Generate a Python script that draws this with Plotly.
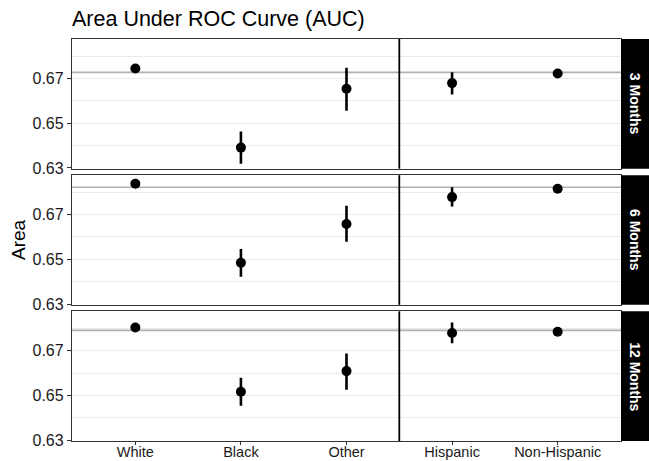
import plotly.graph_objects as go
from plotly.subplots import make_subplots

# ---- data ----
months = ["3 Months", "6 Months", "12 Months"]
groups = ["White", "Black", "Other", "Hispanic", "Non-Hispanic"]

auc_3 = [0.6744, 0.6391, 0.6654, 0.6679, 0.6722]
lo_3 = [0.6735, 0.6319, 0.6556, 0.6628, 0.6714]
hi_3 = [0.6753, 0.6463, 0.6748, 0.6727, 0.6730]

auc_6 = [0.6838, 0.6485, 0.6658, 0.6778, 0.6815]
lo_6 = [0.6827, 0.6422, 0.6579, 0.6736, 0.6806]
hi_6 = [0.6849, 0.6546, 0.6739, 0.6822, 0.6824]

auc_12 = [0.6804, 0.6517, 0.6609, 0.6779, 0.6785]
lo_12 = [0.6793, 0.6454, 0.6526, 0.6734, 0.6776]
hi_12 = [0.6815, 0.6579, 0.6688, 0.6826, 0.6794]

overall_auc = [0.6727, 0.6822, 0.6791]
y_ticks = [0.63, 0.65, 0.67]
y_tick_labels = ["0.63", "0.65", "0.67"]

rows = [(auc_3, lo_3, hi_3), (auc_6, lo_6, hi_6), (auc_12, lo_12, hi_12)]

W, H = 649, 461
ML, MR, MT, MB = 72, 28, 39, 20
plot_w = W - ML - MR
plot_h = H - MT - MB

fig = make_subplots(rows=3, cols=1, shared_xaxes=True, vertical_spacing=0.02)

gap = 6.5 / plot_h
ph = (1 - 2 * gap) / 3
domains = [[1 - ph, 1], [ph + gap, 2 * ph + gap], [0, ph]]

border = "#333333"
grid = "#ebebeb"

for i, (auc, lo, hi) in enumerate(rows):
    r = i + 1
    fig.add_trace(go.Scatter(
        x=groups, y=auc, mode="markers",
        marker=dict(color="black", size=10),
        error_y=dict(type="data", symmetric=False,
                     array=[h - a for h, a in zip(hi, auc)],
                     arrayminus=[a - l for a, l in zip(auc, lo)],
                     color="black", thickness=2.6, width=0),
        showlegend=False, hoverinfo="skip", cliponaxis=False,
    ), row=r, col=1)
    yname = "yaxis" if r == 1 else f"yaxis{r}"
    xname = "xaxis" if r == 1 else f"xaxis{r}"
    yref = "y" if r == 1 else f"y{r}"
    xref = "x" if r == 1 else f"x{r}"
    fig.layout[yname].update(
        domain=domains[i], range=[0.6297, 0.6876], automargin=False,
        tickmode="array", tickvals=y_ticks, ticktext=y_tick_labels,
        showgrid=True, gridcolor=grid, gridwidth=1.3,
        minor=dict(tickmode="array", tickvals=[0.64, 0.66, 0.68],
                   showgrid=True, gridcolor=grid, gridwidth=1.1, ticks=""),
        zeroline=False, showline=True, linecolor=border, linewidth=1.3,
        mirror=True, ticks="outside", ticklen=4, tickcolor=border, tickwidth=1.1,
        tickfont=dict(family="Liberation Sans, Arial", size=16, color="#1a1a1a"),
    )
    fig.layout[xname].update(
        type="category", categoryorder="array", categoryarray=groups,
        range=[-0.6, 4.6], showgrid=False, zeroline=False, automargin=False,
        showline=True, linecolor=border, linewidth=1.3, mirror=True,
        ticks="outside" if r == 3 else "", ticklen=3, tickcolor=border,
        showticklabels=(r == 3), ticklabelstandoff=-6,
        tickfont=dict(family="Liberation Sans, Arial", size=14.5, color="#1a1a1a"),
    )
    # overall reference line
    fig.add_shape(type="line", xref=f"{xref} domain", yref=yref,
                  x0=0, x1=1, y0=overall_auc[i], y1=overall_auc[i],
                  line=dict(color="#b0b0b0", width=1.6), layer="below")
    # separator between race and ethnicity
    fig.add_shape(type="line", xref=xref, yref=f"{yref} domain",
                  x0=2.5, x1=2.5, y0=0, y1=1,
                  line=dict(color="black", width=1.8))
    # strip
    fig.add_shape(type="rect", xref="paper", yref=f"{yref} domain",
                  x0=1, x1=1 + MR / plot_w, y0=0, y1=1,
                  fillcolor="black", line=dict(width=0))
    fig.add_annotation(xref="paper", yref=f"{yref} domain",
                       x=1 + (MR / 2) / plot_w, y=0.5, text=f"<b>{months[i]}</b>",
                       xanchor="center", yanchor="middle",
                       textangle=90, showarrow=False,
                       font=dict(family="Liberation Sans, Arial", size=14, color="white"))

fig.add_annotation(xref="paper", yref="paper", x=0, y=1, xanchor="left", yanchor="bottom",
                   yshift=6, xshift=-2, text="Area Under ROC Curve (AUC)", showarrow=False,
                   font=dict(family="Liberation Sans, Arial", size=21.5, color="black"))
fig.add_annotation(xref="paper", yref="paper", x=(18 - ML) / plot_w, y=0.5,
                   xanchor="center", yanchor="middle", textangle=-90,
                   text="Area", showarrow=False,
                   font=dict(family="Liberation Sans, Arial", size=19, color="black"))

fig.update_layout(width=W, height=H, margin=dict(l=ML, r=MR, t=MT, b=MB, autoexpand=False),
                  plot_bgcolor="white", paper_bgcolor="white")

fig.write_html("out.html", config={"displayModeBar": False},
               post_script="document.body.style.margin='0';document.body.style.overflow='hidden';")
